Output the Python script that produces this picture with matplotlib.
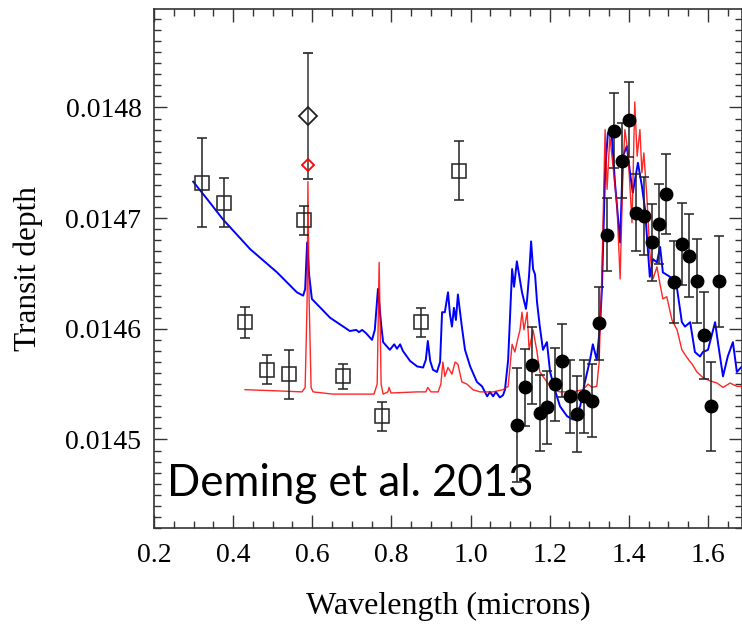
"""
HD 209458b transit spectrum, Deming et al. 2013 style figure.
"""

import numpy as np
import matplotlib
matplotlib.use("Agg")
from matplotlib import pyplot as plt
from matplotlib.ticker import MultipleLocator, FormatStrFormatter

### Data (depths in ppm, converted to fraction when drawn) ###

# STIS / ground-based points (open squares)
sq_wave = [0.321, 0.377, 0.430, 0.486, 0.541, 0.579, 0.678, 0.776, 0.875, 0.971]
sq_depth = [14732, 14714, 14606, 14563, 14559, 14698, 14557, 14521, 14606, 14743]
sq_err = [40, 22, 14, 13, 22, 13, 11, 13, 13, 27]

# sodium points (diamonds)
na_wave = [0.589]
na_depth = [14792]
na_err = [57]
na_model_depth = [14748]

# WFC3 points (filled circles)
wfc_wave = [1.117, 1.138, 1.155, 1.175, 1.193, 1.213, 1.231, 1.251, 1.269, 1.287,
            1.307, 1.325, 1.345, 1.362, 1.383, 1.400, 1.418, 1.438, 1.458, 1.476,
            1.494, 1.514, 1.534, 1.552, 1.572, 1.590, 1.608, 1.628]
wfc_depth = [14513, 14547, 14567, 14524, 14529, 14550, 14571, 14539, 14523, 14539,
             14535, 14605, 14685, 14779, 14752, 14789, 14705, 14702, 14678, 14695,
             14722, 14642, 14677, 14666, 14643, 14594, 14530, 14643]
wfc_err = [51.5, 35, 35, 34, 33, 33, 33, 33, 34, 33,
           33, 33, 33, 34, 34, 34, 35, 35, 35, 36,
           36, 37, 37, 37.5, 38, 39, 40, 41]

# blue model
blue_wave = [0.299, 0.337, 0.374, 0.443, 0.511, 0.561, 0.577, 0.582, 0.587, 0.592,
             0.599, 0.645, 0.695, 0.711, 0.718, 0.726, 0.736, 0.751, 0.758, 0.766,
             0.774, 0.779, 0.796, 0.807, 0.814, 0.822, 0.829, 0.847, 0.865, 0.880,
             0.887, 0.892, 0.898, 0.905, 0.915, 0.923, 0.928, 0.935, 0.943, 0.948,
             0.953, 0.958, 0.963, 0.968, 0.978, 0.986, 0.999, 1.016, 1.029, 1.042,
             1.049, 1.057, 1.064, 1.074, 1.082, 1.087, 1.095, 1.105, 1.110, 1.117,
             1.130, 1.140, 1.143, 1.148, 1.153, 1.158, 1.163, 1.168, 1.175, 1.183,
             1.193, 1.201, 1.213, 1.226, 1.244, 1.259, 1.269, 1.277, 1.289, 1.302,
             1.309, 1.319, 1.327, 1.332, 1.340, 1.347, 1.357, 1.365, 1.378, 1.385,
             1.395, 1.403, 1.410, 1.423, 1.433, 1.441, 1.448, 1.453, 1.461, 1.471,
             1.479, 1.486, 1.504, 1.522, 1.534, 1.542, 1.555, 1.567, 1.580, 1.587,
             1.600, 1.618, 1.625, 1.638, 1.650, 1.663, 1.673, 1.686]
blue_depth = [14733, 14716, 14699, 14672, 14651, 14633, 14630, 14636, 14678, 14649,
              14627, 14610, 14598, 14599, 14597, 14599, 14596, 14590, 14599, 14636,
              14604, 14588, 14581, 14586, 14582, 14586, 14580, 14571, 14566, 14565,
              14572, 14589, 14571, 14563, 14561, 14570, 14615, 14615, 14633, 14613,
              14602, 14619, 14608, 14631, 14602, 14581, 14566, 14552, 14548, 14539,
              14543, 14539, 14543, 14538, 14540, 14545, 14572, 14654, 14638, 14661,
              14633, 14618, 14627, 14649, 14679, 14654, 14649, 14624, 14602, 14581,
              14588, 14561, 14545, 14530, 14521, 14518, 14524, 14530, 14552, 14572,
              14586, 14572, 14602, 14636, 14741, 14777, 14774, 14732, 14678, 14756,
              14765, 14741, 14723, 14750, 14729, 14708, 14672, 14647, 14663, 14660,
              14674, 14651, 14647, 14636, 14606, 14602, 14606, 14579, 14575, 14579,
              14581, 14606, 14588, 14557, 14575, 14588, 14561, 14566]

# red model
red_wave = [0.430, 0.506, 0.574, 0.582, 0.587, 0.589, 0.592, 0.597, 0.602, 0.652,
            0.713, 0.756, 0.764, 0.769, 0.774, 0.779, 0.791, 0.794, 0.799, 0.865,
            0.887, 0.892, 0.900, 0.918, 0.925, 0.930, 0.935, 0.943, 0.953, 0.961,
            0.968, 0.978, 0.991, 1.006, 1.024, 1.057, 1.082, 1.095, 1.105, 1.112,
            1.120, 1.125, 1.130, 1.135, 1.143, 1.148, 1.158, 1.168, 1.175, 1.193,
            1.208, 1.226, 1.259, 1.284, 1.297, 1.307, 1.319, 1.325, 1.332, 1.340,
            1.345, 1.352, 1.360, 1.370, 1.378, 1.385, 1.390, 1.398, 1.408, 1.415,
            1.421, 1.428, 1.433, 1.438, 1.446, 1.453, 1.461, 1.471, 1.479, 1.486,
            1.496, 1.509, 1.522, 1.534, 1.547, 1.560, 1.572, 1.587, 1.605, 1.623,
            1.638, 1.656, 1.673, 1.686]
red_depth = [14545, 14544, 14543, 14547, 14627, 14733, 14627, 14547, 14543, 14541,
             14541, 14541, 14550, 14660, 14550, 14541, 14543, 14547, 14542, 14543,
             14543, 14547, 14543, 14543, 14550, 14570, 14557, 14565, 14559, 14570,
             14568, 14552, 14550, 14545, 14543, 14543, 14545, 14548, 14586, 14579,
             14592, 14599, 14615, 14599, 14615, 14581, 14599, 14579, 14561, 14552,
             14545, 14543, 14543, 14545, 14550, 14547, 14548, 14570, 14651, 14780,
             14726, 14774, 14747, 14711, 14645, 14741, 14780, 14759, 14696, 14805,
             14756, 14780, 14741, 14759, 14717, 14669, 14645, 14656, 14640, 14627,
             14629, 14608, 14599, 14581, 14574, 14568, 14561, 14556, 14553, 14551,
             14547, 14551, 14548, 14548]

def ppm(v):
    return np.asarray(v) * 1e-6

fig = plt.figure(figsize=(7.42, 6.24), dpi=100)
ax = fig.add_axes([154/742, 96/624, 588/742, 519/624])

# label sits behind the data
ax.text(0.233, 0.0144485, "Deming et al. 2013", family="Lato", fontsize=31.5,
        color="black", va="baseline", ha="left", zorder=0)

ax.plot(blue_wave, ppm(blue_depth), color="#0000ff", lw=1.4, zorder=2)
ax.plot(red_wave, ppm(red_depth), color="#ff0000", lw=1.0, alpha=0.85, zorder=3)

ax.errorbar(sq_wave, ppm(sq_depth), yerr=ppm(sq_err), fmt="s", ms=10,
            mfc="none", mec="#222222", mew=1.1, ecolor="#222222", elinewidth=1.1,
            capsize=3.5, capthick=1.1, zorder=4)
ax.errorbar(na_wave, ppm(na_depth), yerr=ppm(na_err), fmt="D", ms=9,
            mfc="none", mec="#222222", mew=1.3, ecolor="#333333", elinewidth=1.1,
            capsize=3.5, capthick=1.1, zorder=4)
ax.plot(na_wave, ppm(na_model_depth), "D", ms=6, mfc="none", mec="#ff0000",
        mew=1.3, zorder=5)
ax.errorbar(wfc_wave, ppm(wfc_depth), yerr=ppm(wfc_err), fmt="o", ms=9,
            mfc="black", mec="black", ecolor="#222222", elinewidth=1.1,
            capsize=3.5, capthick=1.1, zorder=6)

ax.set_xlim(0.2, 1.686)
ax.set_ylim(0.01442, 0.014889)

ax.xaxis.set_major_locator(MultipleLocator(0.2))
ax.xaxis.set_minor_locator(MultipleLocator(0.05))
ax.yaxis.set_major_locator(MultipleLocator(0.0001))
ax.yaxis.set_minor_locator(MultipleLocator(0.00001))
ax.xaxis.set_major_formatter(FormatStrFormatter("%.1f"))
ax.yaxis.set_major_formatter(FormatStrFormatter("%.4f"))

ax.tick_params(which="both", direction="in", top=True, right=True,
               width=1.0, color="#333333")
ax.tick_params(which="major", length=9.5, labelsize=20, pad=9)
ax.tick_params(axis="x", which="major", pad=11)
ax.tick_params(which="minor", length=5)
for lab in ax.get_xticklabels() + ax.get_yticklabels():
    lab.set_family("Liberation Serif")
for sp in ax.spines.values():
    sp.set_color("#333333")
    sp.set_linewidth(1.2)

ax.set_xlabel("Wavelength (microns)", family="Liberation Serif", fontsize=23,
              labelpad=17)
ax.set_ylabel("Transit depth", family="Liberation Serif", fontsize=22.5,
              labelpad=16)

plt.savefig("out.png", dpi=100)
